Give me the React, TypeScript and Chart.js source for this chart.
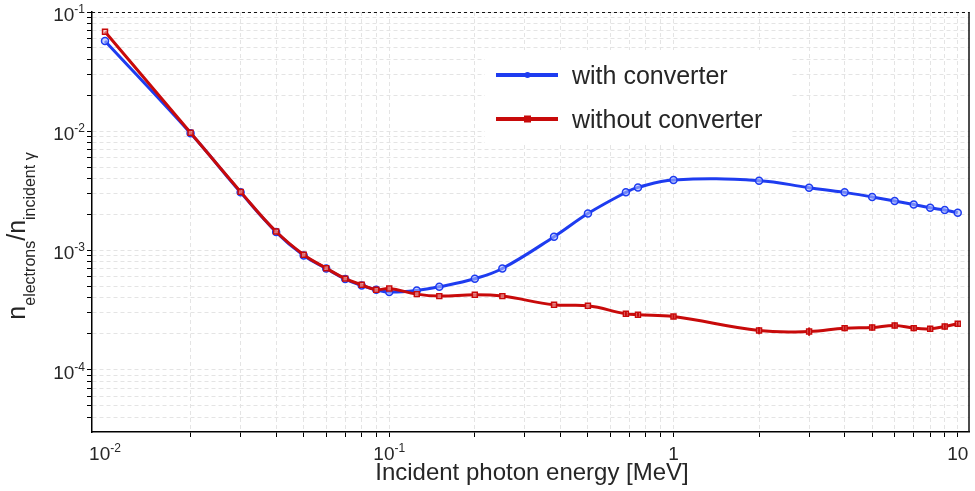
import React, { useEffect, useRef } from 'react';
import { Chart, registerables } from 'chart.js';

Chart.register(...registerables);

// ---- data ----
const energies = [0.01, 0.02, 0.03, 0.04, 0.05, 0.06, 0.07, 0.08, 0.09, 0.1, 0.125, 0.15, 0.2, 0.25, 0.38, 0.5, 0.68, 0.75, 1, 2, 3, 4, 5, 6, 7, 8, 9, 10];
const withConverter = [0.0571, 0.0096, 0.00307, 0.001426, 0.000907, 0.000706, 0.000575, 0.000508, 0.000468, 0.000448, 0.000462, 0.000496, 0.000579, 0.000706, 0.001303, 0.00204, 0.00307, 0.00338, 0.0039, 0.00385, 0.00336, 0.00307, 0.00281, 0.0026, 0.00243, 0.00228, 0.00218, 0.00207];
const withoutConverter = [0.0684, 0.0097, 0.0031, 0.00144, 0.00092, 0.00071, 0.00058, 0.000515, 0.000468, 0.00048, 0.00043, 0.000414, 0.000425, 0.000414, 0.00035, 0.000343, 0.000294, 0.000289, 0.000279, 0.000213, 0.000209, 0.000223, 0.000226, 0.000235, 0.000223, 0.00022, 0.00023, 0.000243];
const withoutConverterErr = [0, 0, 0, 0, 0, 0, 0, 0, 0, 0, 0, 0, 0, 0, 0, 0, 0.04, 0.04, 0.05, 0.07, 0.08, 0.06, 0.06, 0.06, 0.06, 0.06, 0.06, 0.05];

const seriesNames = ['with converter', 'without converter'];
const xTitle = 'Incident photon energy [MeV]';

const xMin = 0.009;
const xMax = 11;
const yMin = 3e-5;
const yMax = 0.1;

const xLabelValues = [0.01, 0.1, 1, 10];
const xLabelBase = ['10', '10', '1', '10'];
const xLabelExp = ['-2', '-1', '', ''];
const yLabelValues = [0.1, 0.01, 0.001, 0.0001];
const yLabelBase = ['10', '10', '10', '10'];
const yLabelExp = ['-1', '-2', '-3', '-4'];

const decadeMultipliers = [1, 2, 3, 4, 5, 6, 7, 8, 9];
const xDecades = [-3, -2, -1, 0, 1];
const yDecades = [-5, -4, -3, -2, -1];

const BLUE = 'rgb(30,60,240)';
const RED = 'rgb(200,10,10)';
const FONT = '"Liberation Sans", Arial, Helvetica, sans-serif';
const TEXT = '#262626';

function gridValues(decades: number[], lo: number, hi: number) {
  const out: number[] = [];
  decades.forEach((d) => {
    decadeMultipliers.forEach((m) => {
      const v = parseFloat((m * Math.pow(10, d)).toPrecision(6));
      if (v >= lo * 1.0001 && v <= hi * 1.0001) out.push(v);
    });
  });
  return out;
}

function drawPow(ctx: CanvasRenderingContext2D, base: string, exp: string, x: number, y: number, align: 'center' | 'right', size: number, expSize: number) {
  ctx.font = `${size}px ${FONT}`;
  const bw = ctx.measureText(base).width;
  ctx.font = `${expSize}px ${FONT}`;
  const ew = exp ? ctx.measureText(exp).width : 0;
  const total = bw + ew;
  const start = align === 'center' ? x - total / 2 : x - total;
  ctx.textAlign = 'left';
  ctx.textBaseline = 'alphabetic';
  ctx.font = `${size}px ${FONT}`;
  ctx.fillText(base, start, y);
  if (exp) {
    ctx.font = `${expSize}px ${FONT}`;
    ctx.fillText(exp, start + bw, y - 8);
  }
}

const decorPlugin = {
  id: 'decor',
  afterDatasetsDraw(chart: any) {
    const ctx = chart.ctx as CanvasRenderingContext2D;
    const xs = chart.scales.x;
    const ys = chart.scales.y;
    ctx.save();
    ctx.strokeStyle = RED;
    ctx.lineWidth = 2;
    energies.forEach((e, i) => {
      const err = withoutConverterErr[i];
      if (!err) return;
      const v = withoutConverter[i];
      const px = xs.getPixelForValue(e);
      const y1 = ys.getPixelForValue(v * (1 + err));
      const y2 = ys.getPixelForValue(v * (1 - err));
      ctx.beginPath();
      ctx.moveTo(px, y1);
      ctx.lineTo(px, y2);
      ctx.stroke();
    });
    ctx.restore();
  },
  afterDraw(chart: any) {
    const ctx = chart.ctx as CanvasRenderingContext2D;
    const a = chart.chartArea;
    const xs = chart.scales.x;
    const ys = chart.scales.y;
    ctx.save();

    // top dashed border, right solid border
    ctx.strokeStyle = '#111';
    ctx.lineWidth = 1;
    ctx.setLineDash([3, 3]);
    ctx.beginPath();
    ctx.moveTo(a.left, a.top + 0.5);
    ctx.lineTo(a.right, a.top + 0.5);
    ctx.stroke();
    ctx.setLineDash([]);
    ctx.lineWidth = 1.5;
    ctx.beginPath();
    ctx.moveTo(a.right - 0.5, a.top);
    ctx.lineTo(a.right - 0.5, a.bottom);
    ctx.stroke();

    // tick labels
    ctx.fillStyle = TEXT;
    xLabelValues.forEach((v, i) => {
      drawPow(ctx, xLabelBase[i], xLabelExp[i], xs.getPixelForValue(v), a.bottom + 28, 'center', 19, 12);
    });
    yLabelValues.forEach((v, i) => {
      drawPow(ctx, yLabelBase[i], yLabelExp[i], a.left - 7, ys.getPixelForValue(v) + 9, 'right', 19, 12);
    });

    // x title
    ctx.font = `24px ${FONT}`;
    ctx.textAlign = 'center';
    ctx.textBaseline = 'alphabetic';
    ctx.fillText(xTitle, 532, a.bottom + 48);

    // y title (rotated, with subscripts)
    const parts: [string, number, number][] = [
      ['n', 25, 0],
      ['electrons', 16, 10],
      ['/', 25, 0],
      ['n', 25, 0],
      ['incident \u03b3', 16, 10],
    ];
    let total = 0;
    parts.forEach(([t, s]) => {
      ctx.font = `${s}px ${FONT}`;
      total += ctx.measureText(t).width;
    });
    ctx.translate(25, 236);
    ctx.rotate(-Math.PI / 2);
    ctx.textAlign = 'left';
    let cx = -total / 2;
    parts.forEach(([t, s, off]) => {
      ctx.font = `${s}px ${FONT}`;
      ctx.fillText(t, cx, off);
      cx += ctx.measureText(t).width;
    });
    ctx.setTransform(1, 0, 0, 1, 0, 0);

    // legend
    ctx.fillStyle = '#fff';
    ctx.fillRect(485, 50, 305, 94);
    const rows = [
      { name: seriesNames[0], color: BLUE, y: 75, marker: 'circle' },
      { name: seriesNames[1], color: RED, y: 119, marker: 'rect' },
    ];
    rows.forEach((r) => {
      ctx.strokeStyle = r.color;
      ctx.lineWidth = 4;
      ctx.beginPath();
      ctx.moveTo(496, r.y);
      ctx.lineTo(558, r.y);
      ctx.stroke();
      ctx.fillStyle = r.color;
      if (r.marker === 'circle') {
        ctx.beginPath();
        ctx.arc(527.5, r.y, 3, 0, Math.PI * 2);
        ctx.fill();
      } else {
        ctx.fillRect(524, r.y - 3.5, 7, 7);
      }
      ctx.fillStyle = TEXT;
      ctx.font = `25px ${FONT}`;
      ctx.textAlign = 'left';
      ctx.textBaseline = 'alphabetic';
      ctx.fillText(r.name, 572, r.y + 8.5);
    });
    ctx.restore();
  },
};

export default function App() {
  const ref = useRef<HTMLCanvasElement>(null);
  useEffect(() => {
    const xGrid = gridValues(xDecades, 0.01, xMax);
    const yGrid = gridValues(yDecades, yMin, yMax);
    const gridCommon = {
      color: '#e4e4e4',
      lineWidth: 1,
      drawTicks: true,
      tickLength: 5,
      tickColor: '#000',
      tickWidth: 1,
    };
    const chart = new Chart(ref.current as HTMLCanvasElement, {
      type: 'line',
      data: {
        datasets: [
          {
            label: seriesNames[1],
            data: energies.map((e, i) => ({ x: e, y: withoutConverter[i] })),
            borderColor: RED,
            borderWidth: 3,
            pointStyle: 'rect',
            pointRadius: 3.5,
            pointBorderWidth: 1.5,
            pointBorderColor: RED,
            pointBackgroundColor: 'rgba(240,180,180,0.6)',
            tension: 0.4,
            fill: false,
            order: 0,
          },
          {
            label: seriesNames[0],
            data: energies.map((e, i) => ({ x: e, y: withConverter[i] })),
            borderColor: BLUE,
            borderWidth: 3,
            pointStyle: 'circle',
            pointRadius: 3.5,
            pointBorderWidth: 1.5,
            pointBorderColor: BLUE,
            pointBackgroundColor: 'rgba(170,185,255,0.6)',
            tension: 0.4,
            fill: false,
            order: 1,
          },
        ],
      },
      options: {
        responsive: false,
        animation: false,
        layout: { padding: { top: 12, right: 1, left: 0, bottom: 0 } },
        plugins: { legend: { display: false }, tooltip: { enabled: false } },
        scales: {
          x: {
            type: 'logarithmic',
            position: 'bottom',
            min: xMin,
            max: xMax,
            ticks: { display: false, autoSkip: false },
            grid: gridCommon,
            border: { display: true, color: '#000', width: 1.5, dash: [4, 3] },
            afterBuildTicks: (s: any) => {
              s.ticks = xGrid.map((v) => ({ value: v }));
            },
            afterFit: (s: any) => {
              s.height = 59;
            },
          },
          y: {
            type: 'logarithmic',
            position: 'left',
            min: yMin,
            max: yMax,
            ticks: { display: false, autoSkip: false },
            grid: gridCommon,
            border: { display: true, color: '#000', width: 1.5, dash: [4, 3] },
            afterBuildTicks: (s: any) => {
              s.ticks = yGrid.map((v) => ({ value: v }));
            },
            afterFit: (s: any) => {
              s.width = 92;
            },
          },
        },
      } as any,
      plugins: [decorPlugin],
    });
    return () => chart.destroy();
  }, []);
  return (
    <canvas
      ref={ref}
      width={975}
      height={491}
      style={{ position: 'absolute', left: 0, top: 0, width: 975, height: 491, display: 'block' }}
    />
  );
}
